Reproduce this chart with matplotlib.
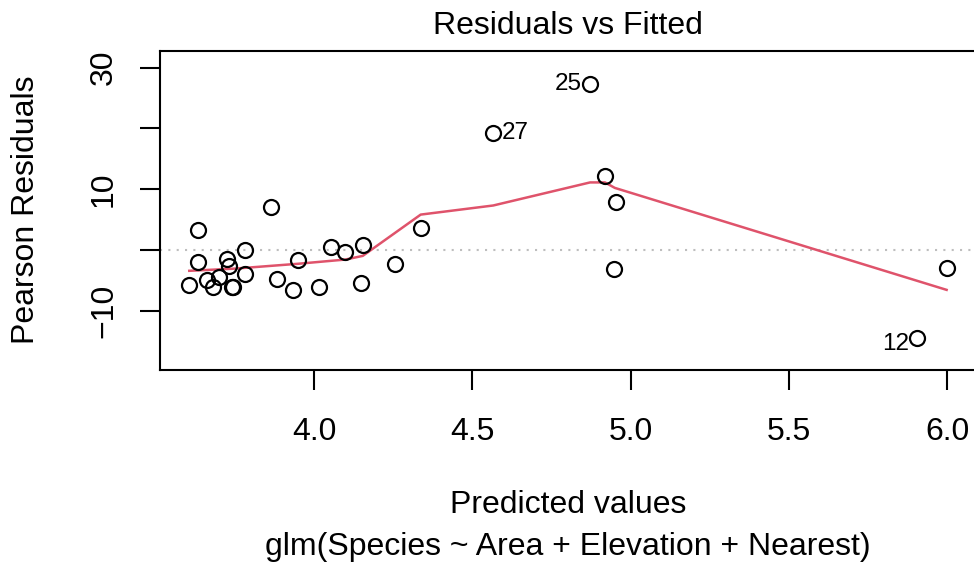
import matplotlib
matplotlib.use("Agg")
import matplotlib.pyplot as plt
import numpy as np

plt.rcParams['font.family'] = ['Liberation Sans', 'DejaVu Sans']

# Fitted (predicted) values and Pearson residuals
fitted = [3.606, 3.633, 3.633, 3.661, 3.682, 3.701, 3.724, 3.732, 3.741, 3.745,
          3.783, 3.783, 3.865, 3.882, 3.934, 3.949, 4.016, 4.054, 4.098, 4.149,
          4.154, 4.256, 4.337, 4.872, 4.566, 4.919, 4.954, 4.948, 5.998, 5.906]
resid = [-5.88, 3.24, -2.09, -4.94, -6.15, -4.50, -1.54, -2.75, -6.15, -6.15,
         0.00, -4.00, 7.08, -4.78, -6.54, -1.70, -6.15, 0.49, -0.33, -5.44,
         0.71, -2.36, 3.62, 27.35, 19.22, 12.19, 7.91, -3.18, -2.97, -14.55]

# Smoother (lowess)
smooth_x = [3.606, 3.75, 3.95, 4.10, 4.154, 4.337, 4.566, 4.872, 4.919, 4.950, 5.998]
smooth_y = [-3.46, -3.10, -2.30, -1.60, -1.00, 5.80, 7.30, 11.10, 11.10, 10.20, -6.60]

# Labelled observations
id_labels = ["25", "27", "12"]
id_x = [4.872, 4.566, 5.906]
id_y = [27.35, 19.22, -14.55]

xticks = [4.0, 4.5, 5.0, 5.5, 6.0]
xtick_labels = ["4.0", "4.5", "5.0", "5.5", "6.0"]
yticks = [-10, 0, 10, 20, 30]
ytick_labels = ["\u221210", "", "10", "", "30"]

W, H = 974, 567
fig = plt.figure(figsize=(W / 100, H / 100), dpi=100)
ax = fig.add_axes([160 / W, (H - 370) / H, (977 - 160) / W, (370 - 51) / H])

FS = 23
ax.axhline(0, color="#BEBEBE", lw=1.5, ls=(0, (1, 3)), zorder=1)
ax.plot(smooth_x, smooth_y, color="#DF536B", lw=1.8, zorder=2)
ax.plot(fitted, resid, ls="none", marker="o", ms=10.8, mfc="none", mec="black",
        mew=1.6, zorder=3)

for lab, x, y in zip(id_labels, id_x, id_y):
    if lab == "27":
        ax.annotate(lab, (x, y), xytext=(6, 0), textcoords="offset points",
                    ha="left", va="center", fontsize=17.5)
    elif lab == "25":
        ax.annotate(lab, (x, y), xytext=(-6, 0), textcoords="offset points",
                    ha="right", va="center", fontsize=17.5)
    else:
        ax.annotate(lab, (x, y), xytext=(-6, -4), textcoords="offset points",
                    ha="right", va="center", fontsize=17.5)

ax.set_xlim(3.5136, 6.094)
ax.set_ylim(-19.8, 32.75)

ax.set_xticks(xticks)
ax.set_xticklabels(xtick_labels, fontsize=FS)
ax.set_yticks(yticks)
ax.set_yticklabels(ytick_labels, fontsize=FS, rotation=90, va="center")
ax.tick_params(axis="both", length=14.5, width=1.5, color="black")
ax.tick_params(axis="x", pad=19)
ax.tick_params(axis="y", pad=15)
for s in ["left", "bottom", "top", "right"]:
    ax.spines[s].set_linewidth(1.5)

fig.text(568 / W, (H - 33.5) / H, "Residuals vs Fitted", ha="center", va="baseline",
         fontsize=FS)
fig.text(568 / W, (H - 513) / H, "Predicted values", ha="center", va="baseline",
         fontsize=FS)
fig.text(568 / W, (H - 555) / H, "glm(Species ~ Area + Elevation + Nearest)",
         ha="center", va="baseline", fontsize=FS)
fig.text(26 / W, (H - 210) / H, "Pearson Residuals", ha="center", va="center",
         rotation=90, fontsize=FS)

fig.savefig("out.png", dpi=100)
